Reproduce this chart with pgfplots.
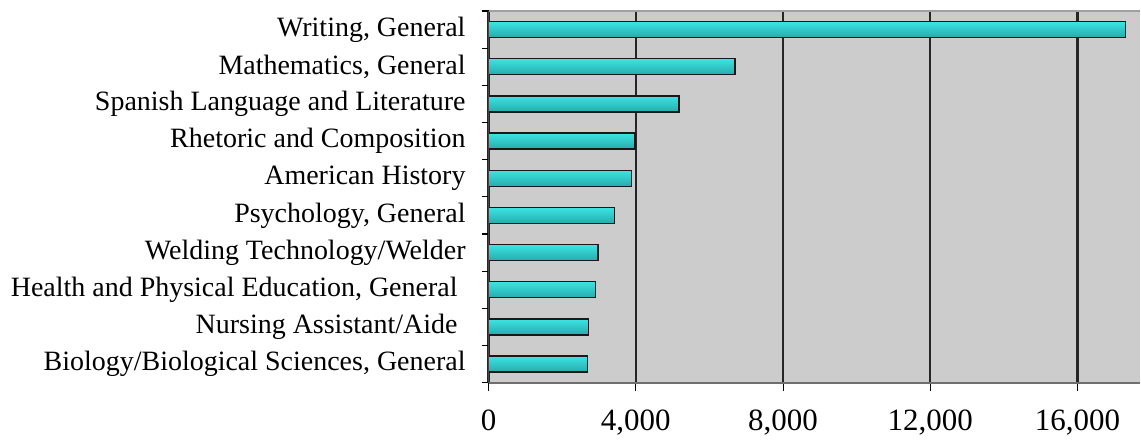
\documentclass[border=0pt]{standalone}
\usepackage{fontspec}
\setmainfont{Liberation Serif}
\usepackage{pgfplots}
\pgfplotsset{compat=1.18}

\definecolor{plotbg}{RGB}{204,204,204}
\definecolor{barlight}{RGB}{95,250,250}
\definecolor{bartop}{RGB}{60,228,228}
\definecolor{bardark}{RGB}{40,170,170}
\definecolor{topline}{RGB}{160,160,160}
\definecolor{bottomline}{RGB}{110,110,110}
\definecolor{leftline}{RGB}{70,70,70}

\pgfplotsset{
  cylbar/.style={draw=black!90, line width=0.7pt,
    top color=bartop, middle color=barlight, bottom color=bardark},
}

\begin{document}
\begin{tikzpicture}
\begin{axis}[
  scale only axis,
  width=326pt, height=186pt,
  xbar, bar width=8pt, bar shift=0pt,
  xmin=0, xmax=17700,
  ymin=-0.5, ymax=9.5,
  y dir=reverse,
  axis background/.style={fill=plotbg},
  axis line style={draw=none},
  clip=false,
  tick pos=left,
  xtick={0,4000,8000,12000,16000},
  scaled x ticks=false,
  xmajorgrids,
  major x grid style={draw=black!85, line width=1.1pt},
  ytick={0,...,9},
  yticklabels={{Writing, General},{Mathematics, General},{Spanish Language and Literature},{Rhetoric and Composition},{American History},{Psychology, General},{Welding Technology/Welder},{Health and Physical Education, General\hspace*{4pt}},{Nursing Assistant/Aide\hspace*{4pt}},{Biology/Biological Sciences, General}},
  minor ytick={-0.5,0.5,...,9.5},
  tick align=outside,
  major tick length=4pt,
  minor tick length=3.5pt,
  ytick style={draw=none},
  xtick style={draw=black, line width=0.5pt},
  minor y tick style={draw=black, line width=0.6pt},
  /pgf/number format/assume math mode=true,
  /pgf/number format/1000 sep={,},
  xticklabel style={font=\fontsize{15.5}{18}\selectfont, yshift=-6pt},
  yticklabel style={font=\fontsize{14}{16}\selectfont, xshift=-4pt},
]
\addplot[cylbar] coordinates {(17300,0)};
\addplot[cylbar] coordinates {(6700,1)};
\addplot[cylbar] coordinates {(5170,2)};
\addplot[cylbar] coordinates {(3980,3)};
\addplot[cylbar] coordinates {(3890,4)};
\addplot[cylbar] coordinates {(3420,5)};
\addplot[cylbar] coordinates {(2970,6)};
\addplot[cylbar] coordinates {(2910,7)};
\addplot[cylbar] coordinates {(2710,8)};
\addplot[cylbar] coordinates {(2680,9)};
% frame lines of the plot area
\draw[topline, line width=0.6pt] (rel axis cs:0,1) -- (rel axis cs:1,1);
\draw[bottomline, line width=1pt] (rel axis cs:0,0) -- (rel axis cs:1,0);
\draw[leftline, line width=0.7pt] (rel axis cs:0,0) -- (rel axis cs:0,1);
% page margins around the plot
\path (rel axis cs:0,1) ++(-244.5pt,5.5pt) coordinate (tl);
\path (rel axis cs:1,0) ++(0pt,-25.5pt) coordinate (br);
\path (tl) -- (br);
\end{axis}
\end{tikzpicture}
\end{document}
